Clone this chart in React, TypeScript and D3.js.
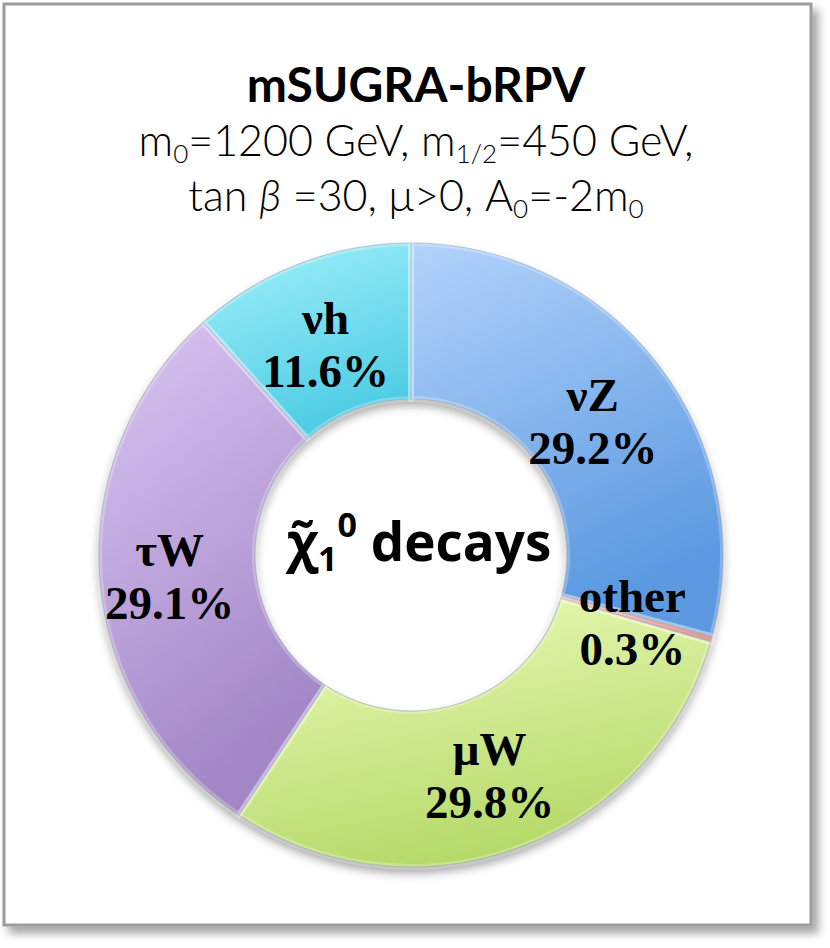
import React from "react";
import * as d3 from "d3";

const categories = ["νZ", "other", "μW", "τW", "νh"];
const values = [29.2, 0.3, 29.8, 29.1, 11.6];
const percentLabels = ["29.2%", "0.3%", "29.8%", "29.1%", "11.6%"];
const colorsTop = ["#b3d3fb", "#e08080", "#eefcbc", "#dac6f3", "#a3f1fb"];
const colorsBottom = ["#5b99e0", "#c0504d", "#b6da6a", "#a286c6", "#4fcde4"];
// label nudges relative to arc centroid (style, not data)
const labelNudge: [number, number][] = [[-4, 6], [-4, 2], [-2, -2], [-8, 2], [-2, 6]];

const W = 830;
const H = 948;
const cx = 411;
const cy = 555;
const rOuter = 312;
const rInner = 156;

export default function App() {
  const pie = d3.pie<number>().sort(null).value((d) => d);
  const arcs = pie(values);
  const arc = d3.arc<d3.PieArcDatum<number>>().innerRadius(rInner).outerRadius(rOuter);
  const labelArc = d3.arc<d3.PieArcDatum<number>>().innerRadius(rInner + 78).outerRadius(rInner + 78);
  const serif = "'Liberation Serif', 'DejaVu Serif', serif";
  const sans = "Lato, 'Open Sans', 'Noto Sans', sans-serif";

  return (
    <svg width={W} height={H} style={{ position: "absolute", left: 0, top: 0, background: "#fff" }}>
      <defs>
        <filter id="frameShadow" x="-5%" y="-5%" width="115%" height="115%">
          <feDropShadow dx="6" dy="7" stdDeviation="4" floodColor="#000" floodOpacity="0.35" />
        </filter>
        <filter id="donutShadow" x="-10%" y="-10%" width="120%" height="125%">
          <feDropShadow dx="0" dy="6" stdDeviation="5" floodColor="#000" floodOpacity="0.35" />
        </filter>
        {categories.map((c, i) => (
          <linearGradient key={c} id={`g${i}`} x1="0" y1="0" x2="0.35" y2="1">
            <stop offset="0" stopColor={colorsTop[i]} />
            <stop offset="1" stopColor={colorsBottom[i]} />
          </linearGradient>
        ))}
      </defs>
      <rect x={4} y={4} width={807} height={921} fill="#fff" stroke="#9c9c9c" strokeWidth={3} filter="url(#frameShadow)" />

      <text x={416} y={102} textAnchor="middle" fontFamily={sans} fontWeight={700} fontSize={48} fill="#000">
        mSUGRA-bRPV
      </text>
      <text x={416} y={156} textAnchor="middle" fontFamily={sans} fontWeight={300} fontSize={43} fill="#000">
        m<tspan fontSize={26} dy={7}>0</tspan>
        <tspan dy={-7}>=1200 GeV, m</tspan>
        <tspan fontSize={26} dy={7}>1/2</tspan>
        <tspan dy={-7}>=450 GeV,</tspan>
      </text>
      <text x={416} y={211} textAnchor="middle" fontFamily={sans} fontWeight={300} fontSize={43} fill="#000">
        tan <tspan fontStyle="italic">β</tspan> =30, μ&gt;0, A
        <tspan fontSize={26} dy={7}>0</tspan>
        <tspan dy={-7}>=-2m</tspan>
        <tspan fontSize={26} dy={7}>0</tspan>
      </text>

      <g transform={`translate(${cx},${cy})`}>
        <g filter="url(#donutShadow)">
          {arcs.map((a, i) => (
            <path key={categories[i]} d={arc(a) ?? ""} fill={`url(#g${i})`} stroke="#5f6f80" strokeOpacity={0.45} strokeWidth={1.2} />
          ))}
        </g>
        {arcs.map((a, i) => (
          <path key={"h" + i} d={arc(a) ?? ""} fill="none" stroke="#fff" strokeOpacity={0.25} strokeWidth={6} />
        ))}
        {arcs.map((a, i) => {
          const [lx, ly] = labelArc.centroid(a);
          const [nx, ny] = labelNudge[i];
          return (
            <text key={"l" + i} x={lx + nx} y={ly + ny} textAnchor="middle" fontFamily={serif} fontWeight={700} fontSize={47} fill="#000">
              <tspan x={lx + nx} dy={-8}>{categories[i]}</tspan>
              <tspan x={lx + nx} dy={53}>{percentLabels[i]}</tspan>
            </text>
          );
        })}
        <text x={8} y={6} textAnchor="middle" fontFamily="'Open Sans', 'Noto Sans', sans-serif" fontWeight={700} fontSize={53} fill="#000">
          χ̃<tspan fontSize={34} dy={10}>1</tspan>
          <tspan fontSize={34} dy={-34}>0</tspan>
          <tspan dy={24}> decays</tspan>
        </text>
      </g>
    </svg>
  );
}
